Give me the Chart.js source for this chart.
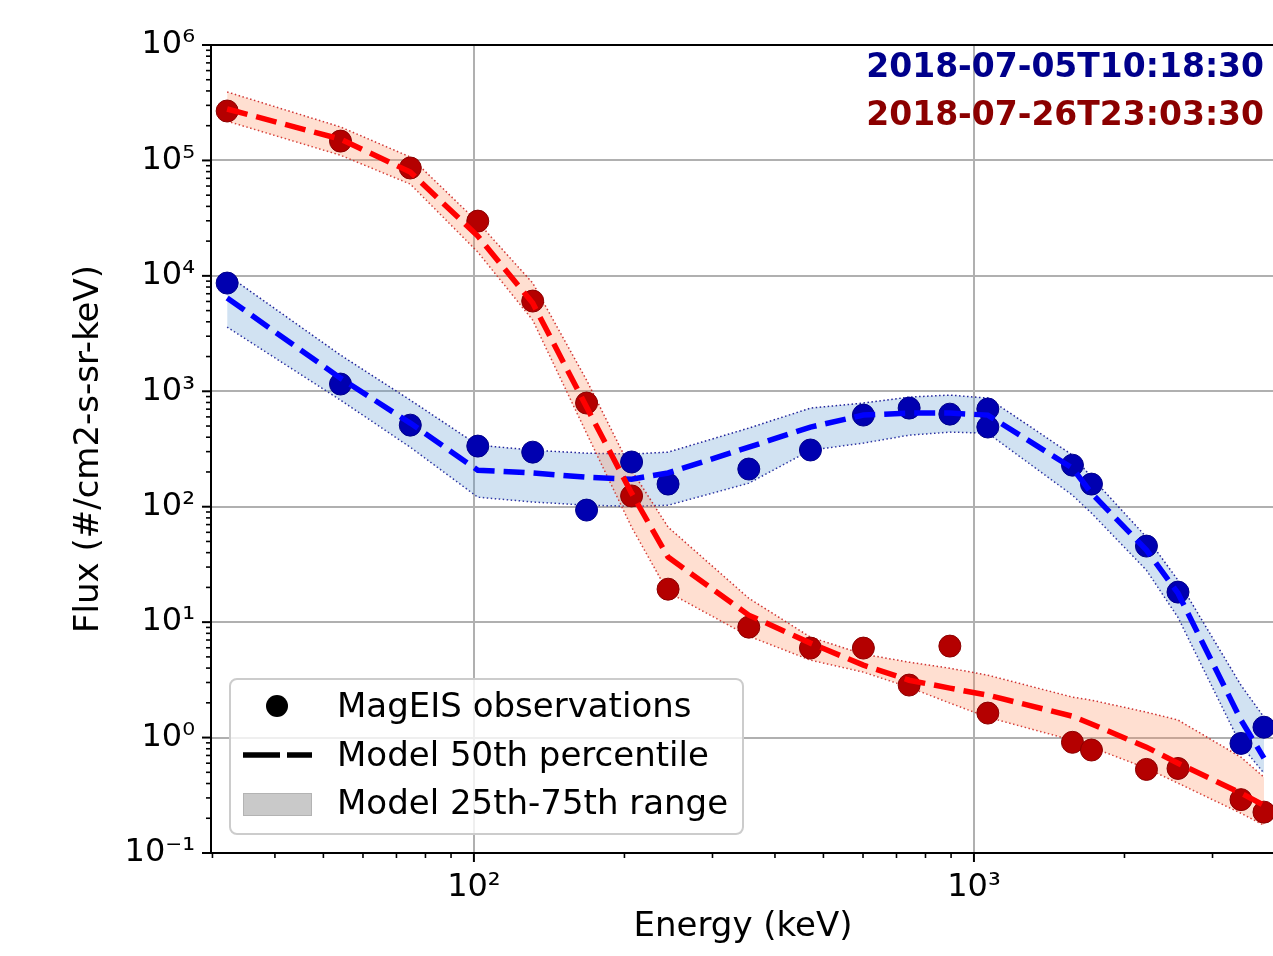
<!DOCTYPE html>
<html>
<head>
<meta charset="utf-8">
<script src="https://cdn.jsdelivr.net/npm/chart.js@4.4.1/dist/chart.umd.min.js"></script>
<style>
html,body{margin:0;padding:0;overflow:hidden;background:#fff;width:1273px;height:956px;}
#wrap{position:relative;width:1290px;height:956px;}
canvas{display:block;}
#legend{position:absolute;left:229px;top:678px;width:515px;height:157px;box-sizing:border-box;border:2px solid #cccccc;border-radius:8px;background:rgba(255,255,255,0.8);font-family:'DejaVu Sans',sans-serif;font-size:34px;color:#000;}
#legend .t{position:absolute;left:106px;line-height:40px;height:40px;white-space:nowrap;}
#legend .dot{position:absolute;left:35px;top:15px;width:22px;height:22px;border-radius:50%;background:#000;}
#legend svg{position:absolute;left:12px;top:71px;}
#legend .box{position:absolute;left:12px;top:113px;width:69px;height:23px;box-sizing:border-box;background:#c9c9c9;border:1px solid #b3b3b3;}
</style>
</head>
<body>
<div id="wrap">
<canvas id="c" width="1290" height="956"></canvas>
<div id="legend">
  <div class="dot"></div><div class="t" style="top:5px">MagEIS observations</div>
  <svg width="69" height="8"><line x1="0" y1="4" x2="69" y2="4" stroke="#000" stroke-width="5.5" stroke-dasharray="37 7"/></svg><div class="t" style="top:54px">Model 50th percentile</div>
  <div class="box"></div><div class="t" style="top:102px">Model 25th-75th range</div>
</div>
</div>
<script>
// ---------- data ----------
const modelEnergy = [32.1, 54.1, 74.6, 101.8, 131.1, 168, 206.7, 244.5, 354.6, 471, 601, 742, 895, 1066, 1574, 1718, 2213, 2559, 3420, 3802];
const obsEnergy   = [32.1, 54.1, 74.6, 101.8, 131.1, 168, 206.7, 244.5, 354.6, 471, 601, 742, 895, 1066, 1066, 1574, 1718, 2213, 2559, 3420, 3802];

const blueObs = [8660, 1155, 509, 335, 297, 93.5, 244, 157, 212, 310, 622, 715, 634, 702, 490, 229, 157, 45.6, 18.2, 0.89, 1.23];
const redObs  = [268000, 147000, 86000, 29800, 6050, 791, 124, 19.3, 9.05, 5.96, 5.96, 2.85, 6.2, 1.63, null, 0.91, 0.78, 0.53, 0.54, 0.29, 0.226];

const blueMedian = [6430, 1300, 530, 207, 196, 180, 173, 196, 328, 490, 622, 647, 647, 622, 216, 131, 42.1, 17.8, 1.42, 0.663];
const blueUpper  = [10200, 2060, 839, 342, 309, 291, 286, 297, 480, 715, 791, 891, 927, 873, 280, 180, 54.5, 23.1, 2.84, 1.50];
const blueLower  = [3600, 839, 328, 121, 110, 103, 101, 103, 160, 309, 356, 417, 443, 434, 126, 88.1, 28.2, 11.0, 0.859, 0.492];

const redMedian = [279000, 153000, 79300, 22100, 5810, 730, 131, 36.6, 11.5, 6.58, 4.24, 3.14, 2.68, 2.33, 1.53, 1.31, 0.826, 0.600, 0.330, 0.259];
const redUpper  = [392000, 195000, 107000, 29200, 8660, 1250, 207, 66.6, 16.1, 7.41, 5.28, 4.50, 3.99, 3.47, 2.24, 2.11, 1.66, 1.42, 0.676, 0.454];
const redLower  = [219000, 111000, 62400, 16100, 4140, 434, 66.6, 18.2, 7.56, 4.69, 3.69, 2.73, 1.99, 1.50, 0.949, 0.826, 0.543, 0.403, 0.221, 0.174];

const xMajorValues = [100, 1000];
const xMajorLabels = ['10\u00B2', '10\u00B3'];
const xMinorValues = [30, 40, 50, 60, 70, 80, 90, 200, 300, 400, 500, 600, 700, 800, 900, 2000, 3000, 4000];
const yMajorValues = [0.1, 1, 10, 100, 1000, 10000, 100000, 1000000];
const yMajorLabels = ['10\u207B\u00B9', '10\u2070', '10\u00B9', '10\u00B2', '10\u00B3', '10\u2074', '10\u2075', '10\u2076'];
const yMinorFactors = [2, 3, 4, 5, 6, 7, 8, 9];

const timeLabels = ['2018-07-05T10:18:30', '2018-07-26T23:03:30'];
const axisTitles = {x: 'Energy (keV)', y: 'Flux (#/cm2-s-sr-keV)'};

// ---------- helpers ----------
const pts = (xs, ys) => xs.map((x, i) => ({x: x, y: ys[i]}));
const isMajor = v => Math.abs(Math.log10(v) - Math.round(Math.log10(v))) < 1e-9;
const labelFor = (vals, labels, v) => {
  for (let i = 0; i < vals.length; i++) if (Math.abs(vals[i] - v) / vals[i] < 1e-9) return labels[i];
  return '';
};
const yMinorValues = [];
yMajorValues.slice(0, -1).forEach(m => yMinorFactors.forEach(f => yMinorValues.push(+(m * f).toPrecision(6))));
const xTickValues = xMajorValues.concat(xMinorValues).sort((a, b) => a - b);
const yTickValues = yMajorValues.concat(yMinorValues).sort((a, b) => a - b);

Chart.defaults.font.family = "'DejaVu Sans', sans-serif";
Chart.defaults.color = '#000';

const frame = {
  id: 'frame',
  afterDraw(chart) {
    const {ctx, chartArea: a, scales} = chart;
    ctx.save();
    ctx.strokeStyle = '#000';
    ctx.lineWidth = 2;
    ctx.beginPath(); ctx.moveTo(a.left - 1, a.top); ctx.lineTo(a.right, a.top); ctx.stroke();
    scales.x.ticks.forEach(t => {
      const px = scales.x.getPixelForValue(t.value);
      const mj = isMajor(t.value);
      ctx.lineWidth = mj ? 2 : 1.6;
      ctx.beginPath(); ctx.moveTo(px, a.bottom); ctx.lineTo(px, a.bottom + (mj ? 9 : 5)); ctx.stroke();
    });
    scales.y.ticks.forEach(t => {
      const py = scales.y.getPixelForValue(t.value);
      const mj = isMajor(t.value);
      ctx.lineWidth = mj ? 2 : 1.6;
      ctx.beginPath(); ctx.moveTo(a.left, py); ctx.lineTo(a.left - (mj ? 9 : 5), py); ctx.stroke();
    });
    ctx.font = "bold 33px 'DejaVu Sans'";
    ctx.textAlign = 'right';
    ctx.textBaseline = 'alphabetic';
    ctx.fillStyle = '#00008b';
    ctx.fillText(timeLabels[0], a.right - 11, a.top + 32);
    ctx.fillStyle = '#8b0000';
    ctx.fillText(timeLabels[1], a.right - 11, a.top + 80);
    ctx.restore();
  }
};

const bandStyle = (edge, fillColor, target, order) => ({
  borderColor: edge, borderWidth: 1.5, borderDash: [1.5, 2.5], pointRadius: 0, pointHoverRadius: 0,
  tension: 0, fill: target === null ? false : target, backgroundColor: fillColor, order: order
});
const obsStyle = (fillC, edgeC, order) => ({
  showLine: false, pointRadius: 11, pointHoverRadius: 11, pointBackgroundColor: fillC,
  pointBorderColor: edgeC, pointBorderWidth: 1, borderColor: edgeC, backgroundColor: fillC, order: order
});
const medStyle = (c, order) => ({
  borderColor: c, borderWidth: 5.5, borderDash: [21, 9], pointRadius: 0, pointHoverRadius: 0,
  tension: 0, fill: false, order: order
});

new Chart(document.getElementById('c'), {
  type: 'line',
  data: {
    datasets: [
      Object.assign({label: 'blue 75th', data: pts(modelEnergy, blueUpper)}, bandStyle('rgba(0,0,140,0.85)', 'rgba(90,150,210,0.28)', '+1', 10)),
      Object.assign({label: 'blue 25th', data: pts(modelEnergy, blueLower)}, bandStyle('rgba(0,0,140,0.85)', 'rgba(0,0,0,0)', null, 10)),
      Object.assign({label: 'red 75th', data: pts(modelEnergy, redUpper)}, bandStyle('rgba(200,20,20,0.85)', 'rgba(255,140,90,0.28)', '+1', 9)),
      Object.assign({label: 'red 25th', data: pts(modelEnergy, redLower)}, bandStyle('rgba(200,20,20,0.85)', 'rgba(0,0,0,0)', null, 9)),
      Object.assign({label: 'blue obs', data: pts(obsEnergy, blueObs)}, obsStyle('#0000b0', '#00008b', 5)),
      Object.assign({label: 'red obs', data: pts(obsEnergy, redObs)}, obsStyle('#b40000', '#8b0000', 4)),
      Object.assign({label: 'blue median', data: pts(modelEnergy, blueMedian)}, medStyle('#0000ff', 2)),
      Object.assign({label: 'red median', data: pts(modelEnergy, redMedian)}, medStyle('#ff0000', 1))
    ]
  },
  options: {
    responsive: false,
    animation: false,
    devicePixelRatio: 1,
    events: [],
    layout: {padding: {left: 0, top: 45, right: 8, bottom: 0}},
    plugins: {legend: {display: false}, tooltip: {enabled: false}},
    scales: {
      x: {
        type: 'logarithmic', position: 'bottom', min: 29.8, max: 4000,
        afterFit: s => { s.height = 103; },
        afterBuildTicks: s => { s.ticks = xTickValues.map(v => ({value: v, major: isMajor(v)})); },
        ticks: {autoSkip: false, maxRotation: 0, minRotation: 0, padding: 15, font: {size: 32}, color: '#000',
                callback: v => labelFor(xMajorValues, xMajorLabels, v)},
        grid: {drawTicks: false, color: c => (c.tick && isMajor(c.tick.value)) ? '#b0b0b0' : 'rgba(0,0,0,0)', lineWidth: 2},
        border: {display: true, color: '#000', width: 2},
        title: {display: true, text: axisTitles.x, font: {size: 34}, color: '#000', padding: {top: 0, bottom: 8}}
      },
      y: {
        type: 'logarithmic', position: 'left', min: 0.1, max: 1000000,
        afterFit: s => { s.width = 211; },
        afterBuildTicks: s => { s.ticks = yTickValues.map(v => ({value: v, major: isMajor(v)})); },
        ticks: {autoSkip: false, padding: 16, font: {size: 32}, color: '#000',
                callback: v => labelFor(yMajorValues, yMajorLabels, v)},
        grid: {drawTicks: false, color: c => (c.tick && isMajor(c.tick.value)) ? '#b0b0b0' : 'rgba(0,0,0,0)', lineWidth: 2},
        border: {display: true, color: '#000', width: 2},
        title: {display: true, text: axisTitles.y, font: {size: 34}, color: '#000', padding: {top: 69, bottom: 0}}
      }
    }
  },
  plugins: [frame]
});
</script>
</body>
</html>
